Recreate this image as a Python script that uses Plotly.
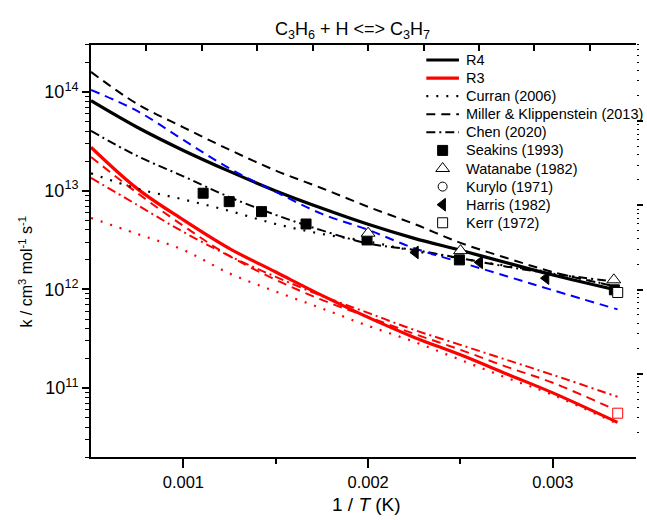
import plotly.graph_objects as go

# ---------------- data ----------------
inv_T = [0.0005, 0.00075, 0.001, 0.00125, 0.0015, 0.00175, 0.002, 0.00225, 0.0025, 0.00275, 0.003, 0.00335]

R4 = [8.18e13, 4.40e13, 2.56e13, 1.57e13, 9.95e12, 6.64e12, 4.57e12, 3.29e12, 2.49e12, 1.86e12, 1.40e12, 9.8e11]
R4_blue = [1.05e14, 6.43e13, 3.27e13, 1.68e13, 9.73e12, 5.82e12, 4.01e12, 2.61e12, 1.88e12, 1.36e12, 9.8e11, 6.27e11]
curran_R4 = [1.50e13, 1.05e13, 8.16e12, 6.24e12, 4.60e12, 3.65e12, 3.06e12, 2.45e12, 2.06e12, 1.73e12, 1.47e12, 1.06e12]
miller_R4 = [1.60e14, 7.57e13, 4.39e13, 2.60e13, 1.60e13, 1.06e13, 6.87e12, 4.60e12, 2.96e12, 2.08e12, 1.50e12, 1.06e12]
chen_R4 = [4.04e13, 2.25e13, 1.40e13, 8.60e12, 5.69e12, 3.96e12, 2.92e12, 2.51e12, 2.07e12, 1.70e12, 1.44e12, 1.19e12]

R3 = [2.76e13, 1.05e13, 5.06e12, 2.59e12, 1.50e12, 8.69e11, 5.20e11, 3.26e11, 2.17e11, 1.39e11, 8.93e10, 4.49e10]
curran_R3 = [5.30e12, 3.65e12, 2.51e12, 1.45e12, 9.5e11, 6.41e11, 4.27e11, 2.94e11, 1.93e11, 1.27e11, 8.53e10, 4.34e10]
miller_R3 = [2.20e13, 9.5e12, 4.40e12, 2.18e12, 1.25e12, 7.82e11, 5.26e11, 3.54e11, 2.44e11, 1.64e11, 1.13e11, 5.87e10]
chen_R3 = [1.35e13, 7.18e12, 3.82e12, 2.18e12, 1.34e12, 8.59e11, 5.78e11, 3.88e11, 2.74e11, 1.93e11, 1.36e11, 8.15e10]

seakins_x = [0.001107, 0.001248, 0.001423, 0.001664, 0.001994, 0.002494, 0.003333]
seakins_k = [9.43e12, 7.75e12, 6.14e12, 4.60e12, 3.17e12, 1.99e12, 9.9e11]
watanabe_x = [0.002, 0.0025, 0.00333]
watanabe_k = [3.71e12, 2.47e12, 1.25e12]
kurylo_x = [0.003351]
kurylo_k = [9.3e11]
harris_x = [0.002256, 0.002604, 0.002963]
harris_k = [2.37e12, 1.88e12, 1.30e12]
kerr_x = [0.003351]
kerr_k = [9.3e11]
kerr_R3_x = [0.003351]
kerr_R3_k = [5.56e10]

legend_labels = ["R4", "R3", "Curran (2006)", "Miller & Klippenstein (2013)", "Chen (2020)",
                 "Seakins (1993)", "Watanabe (1982)", "Kurylo (1971)", "Harris (1982)", "Kerr (1972)"]

x_ticks = [0.001, 0.002, 0.003]
x_ticktext = ["0.001", "0.002", "0.003"]
x_minor = [0.0015, 0.0025]
top_ticks = [0.0005, 0.0008, 0.0011, 0.0014, 0.0017, 0.002, 0.0023, 0.0026, 0.0029, 0.0032]
y_ticks = [1e11, 1e12, 1e13, 1e14]
y_ticktext = ["10<sup>11</sup>", "10<sup>12</sup>", "10<sup>13</sup>", "10<sup>14</sup>"]
y_minor = [m * 10 ** e for e in range(10, 15) for m in range(2, 10)]

# ---------------- styles ----------------
FONT = "Arial, Liberation Sans, sans-serif"
DOT = "2px,8px"
DASH = "9px,6px"
DASHDOT = "9px,4px,2px,4px"

fig = go.Figure()

def line(x, y, color, width, dash=None):
    fig.add_trace(go.Scatter(x=x, y=y, mode="lines", showlegend=False, hoverinfo="skip",
                             line=dict(color=color, width=width, dash=dash, shape="spline", smoothing=1.0)))

# red family
line(inv_T, curran_R3, "#ff0000", 2.2, DOT)
line(inv_T, chen_R3, "#ff0000", 2, DASHDOT)
line(inv_T, miller_R3, "#ff0000", 2, DASH)
line(inv_T, R3, "#ff0000", 3.2)
# black family
line(inv_T, curran_R4, "#000000", 2.2, DOT)
line(inv_T, chen_R4, "#000000", 2, DASHDOT)
line(inv_T, miller_R4, "#000000", 2, DASH)
line(inv_T, R4, "#000000", 3.2)
line(inv_T, R4_blue, "#0000ff", 2, DASH)

def markers(x, y, symbol, fill, edge, size):
    fig.add_trace(go.Scatter(x=x, y=y, mode="markers", showlegend=False, hoverinfo="skip",
                             marker=dict(symbol=symbol, color=fill, size=size,
                                         line=dict(color=edge, width=1))))

markers(seakins_x, seakins_k, "square", "#000000", "#000000", 10)
markers(harris_x, harris_k, "triangle-left", "#000000", "#000000", 11)
markers(watanabe_x, watanabe_k, "triangle-up", "#ffffff", "#000000", 12)
markers(kurylo_x, kurylo_k, "circle", "#ffffff", "#000000", 9)
markers(kerr_x, kerr_k, "square", "#ffffff", "#000000", 10)
markers(kerr_R3_x, kerr_R3_k, "square", "#ffffff", "#ff0000", 10)

# invisible trace to anchor the mirror axes
fig.add_trace(go.Scatter(x=[0.001], y=[1e12], xaxis="x2", yaxis="y2", mode="markers",
                         marker=dict(opacity=0), showlegend=False, hoverinfo="skip"))

# ---------------- manual legend (overlay axes in plot pixels) ----------------
row0, rowgap = 15, 18.1
rows = [row0 + rowgap * i for i in range(len(legend_labels))]
lx0, lx1, lmid, ltext = 339, 372, 355.5, 377

leg_lines = [("#000000", 3.2, None), ("#ff0000", 3.2, None), ("#000000", 2.2, DOT),
             ("#000000", 2, DASH), ("#000000", 2, DASHDOT)]
for i, (c, w, d) in enumerate(leg_lines):
    fig.add_trace(go.Scatter(x=[lx0, lx1], y=[rows[i], rows[i]], xaxis="x3", yaxis="y3",
                             mode="lines", line=dict(color=c, width=w, dash=d),
                             showlegend=False, hoverinfo="skip"))
leg_marks = [("square", "#000000", 10), ("triangle-up", "#ffffff", 12), ("circle", "#ffffff", 9),
             ("triangle-left", "#000000", 11), ("square", "#ffffff", 10)]
for j, (s, f, sz) in enumerate(leg_marks):
    i = j + 5
    fig.add_trace(go.Scatter(x=[lmid], y=[rows[i]], xaxis="x3", yaxis="y3", mode="markers",
                             marker=dict(symbol=s, color=f, size=sz, line=dict(color="#000000", width=1)),
                             showlegend=False, hoverinfo="skip"))

annotations = []
for i, lab in enumerate(legend_labels):
    annotations.append(dict(x=ltext, y=rows[i], xref="x3", yref="y3", text=lab, showarrow=False,
                            xanchor="left", yanchor="middle", font=dict(family=FONT, size=14.5, color="#000")))

annotations.append(dict(x=0.479, y=1.036, xref="paper", yref="paper", showarrow=False,
                        text="C<sub>3</sub>H<sub>6</sub> + H <=> C<sub>3</sub>H<sub>7</sub>",
                        xanchor="center", yanchor="middle", font=dict(family=FONT, size=18, color="#000")))
annotations.append(dict(x=0.506, y=-0.1145, xref="paper", yref="paper", showarrow=False,
                        text="1 / <i>T</i> (K)", xanchor="center", yanchor="middle",
                        font=dict(family=FONT, size=19, color="#000")))
annotations.append(dict(x=-0.12, y=0.449, xref="paper", yref="paper", showarrow=False, textangle=-90,
                        text="k / cm<sup>3</sup> mol<sup>-1</sup> s<sup>-1</sup>", xanchor="center",
                        yanchor="middle", font=dict(family=FONT, size=16, color="#000")))

fig.update_layout(
    width=647, height=520,
    margin=dict(l=91, r=5, t=45, b=63),
    paper_bgcolor="white", plot_bgcolor="white",
    font=dict(family=FONT, color="#000"),
    showlegend=False,
    annotations=annotations,
    xaxis=dict(range=[0.0005, 0.00345], tickmode="array", tickvals=x_ticks, ticktext=x_ticktext,
               ticks="outside", ticklen=9, tickwidth=1.5, tickcolor="#000",
               showline=True, linewidth=2, linecolor="#000", showgrid=False, zeroline=False,
               tickfont=dict(size=16.5, family=FONT),
               minor=dict(tickmode="array", tickvals=x_minor, ticks="outside", ticklen=5,
                          tickwidth=1.5, tickcolor="#000", showgrid=False)),
    xaxis2=dict(range=[0.0005, 0.00345], overlaying="x", side="top", anchor="y",
                tickmode="array", tickvals=top_ticks, ticks="inside", ticklen=6, tickwidth=1.5,
                tickcolor="#000", showticklabels=False, showline=True, linewidth=2, linecolor="#000",
                showgrid=False, zeroline=False),
    yaxis=dict(type="log", range=[10.301, 14.477], tickmode="array", tickvals=y_ticks,
               ticktext=y_ticktext, ticks="outside", ticklen=7, tickwidth=1.5, tickcolor="#000",
               showline=True, linewidth=2, linecolor="#000", showgrid=False, zeroline=False,
               tickfont=dict(size=18, family=FONT),
               minor=dict(tickmode="array", tickvals=y_minor, ticks="outside", ticklen=4,
                          tickwidth=1.2, tickcolor="#000", showgrid=False)),
    yaxis2=dict(type="log", range=[0.012, 4.903], overlaying="y", side="right", anchor="x",
                tickmode="array", tickvals=[10, 100, 1000, 10000], ticks="outside", ticklen=6,
                tickwidth=1.5, tickcolor="#000", showticklabels=False, showline=False,
                showgrid=False, zeroline=False,
                minor=dict(tickmode="array",
                           tickvals=[m * 10 ** e for e in range(0, 5) for m in range(2, 10)],
                           ticks="outside", ticklen=2, tickwidth=1.2, tickcolor="#000", showgrid=False)),
    xaxis3=dict(range=[0, 551], overlaying="x", anchor="y3", visible=False, fixedrange=True),
    yaxis3=dict(range=[412.3, 0], overlaying="y", anchor="x3", visible=False, fixedrange=True),
)

fig.write_html("out.html")
